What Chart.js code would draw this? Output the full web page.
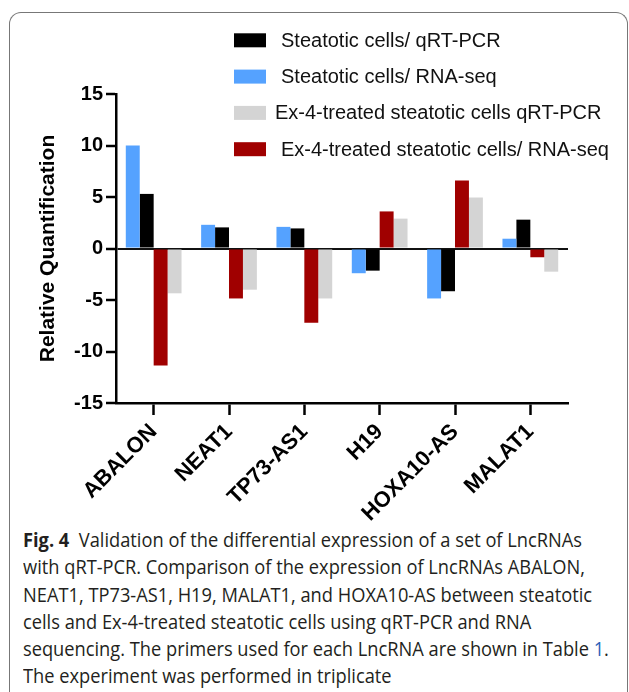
<!DOCTYPE html>
<html>
<head>
<meta charset="utf-8">
<script src="https://cdn.jsdelivr.net/npm/chart.js@4"></script>
<style>
  html, body { margin: 0; padding: 0; background: #fff; }
  body { width: 629px; height: 692px; position: relative; overflow: hidden; }
  #frame {
    position: absolute; left: 9px; top: 12px; width: 617px; height: 700px;
    border-left: 1.5px solid #777; border-top: 1.5px solid #777; border-right: 1.5px solid #777;
    border-top-left-radius: 12px; border-top-right-radius: 12px;
  }
  #chart { position: absolute; left: 0; top: 0; }
  #caption {
    position: absolute; left: 23px; top: 526px;
    font-family: "Open Sans", "Noto Sans", sans-serif; font-size: 19.5px;
    line-height: 27.3px; color: #231f20; white-space: nowrap;
    transform-origin: 0 0;
  }
  #caption b { font-weight: 700; }
  #caption .ref { color: #2a62b8; }
</style>
</head>
<body>
<div id="frame"></div>
<canvas id="chart" width="629" height="525"></canvas>
<div id="caption">
  <div><span id="line1"><b>Fig. 4</b>&nbsp; Validation of the differential expression of a set of LncRNAs</span></div>
  <div>with qRT-PCR. Comparison of the expression of LncRNAs ABALON,</div>
  <div>NEAT1, TP73-AS1, H19, MALAT1, and HOXA10-AS between steatotic</div>
  <div>cells and Ex-4-treated steatotic cells using qRT-PCR and RNA</div>
  <div>sequencing. The primers used for each LncRNA are shown in Table <span class="ref">1</span>.</div>
  <div>The experiment was performed in triplicate</div>
</div>
<script>
// data
const genes = ["ABALON", "NEAT1", "TP73-AS1", "H19", "HOXA10-AS", "MALAT1"];
const steatoticRnaSeq = [10.0, 2.3, 2.1, -2.4, -4.85, 0.95];
const steatoticQpcr = [5.3, 2.05, 1.95, -2.15, -4.15, 2.8];
const ex4RnaSeq = [-11.35, -4.85, -7.2, 3.6, 6.6, -0.85];
const ex4Qpcr = [-4.35, -4.0, -4.85, 2.9, 4.95, -2.25];
const yMin = -15, yMax = 15, yStep = 5;

Chart.defaults.font.family = "'Liberation Sans', Arial, sans-serif";
Chart.defaults.color = "#000";

// legend drawn inside the plot, in the figure's own order
const boxLegend = {
    id: "boxLegend",
    afterDraw(chart, args, opts) {
        const ctx = chart.ctx;
        ctx.save();
        ctx.font = "20px 'Liberation Sans', Arial, sans-serif";
        ctx.textBaseline = "middle";
        opts.order.forEach((dsIndex, i) => {
            const ds = chart.data.datasets[dsIndex];
            const y = opts.top + i * opts.rowGap;
            ctx.fillStyle = ds.backgroundColor;
            ctx.fillRect(opts.boxX, y - 7, 32, 14);
            ctx.fillStyle = "#111";
            ctx.fillText(ds.label, opts.textX + (opts.textShift[i] || 0), y + 1);
        });
        ctx.restore();
    }
};

new Chart(document.getElementById("chart").getContext("2d"), {
    type: "bar",
    data: {
        labels: genes,
        datasets: [
            { label: "Steatotic cells/ RNA-seq", data: steatoticRnaSeq, backgroundColor: "#55a2ff" },
            { label: "Steatotic cells/ qRT-PCR", data: steatoticQpcr, backgroundColor: "#000000" },
            { label: "Ex-4-treated steatotic cells/ RNA-seq", data: ex4RnaSeq, backgroundColor: "#a00000" },
            { label: "Ex-4-treated steatotic cells qRT-PCR", data: ex4Qpcr, backgroundColor: "#d4d4d4" },
        ]
    },
    plugins: [boxLegend],
    options: {
        responsive: false,
        animation: false,
        devicePixelRatio: 1,
        categoryPercentage: 0.74,
        barPercentage: 1.0,
        layout: {
            padding: { left: 28, top: 94, right: 61, bottom: 0 }
        },
        plugins: {
            legend: { display: false },
            tooltip: { enabled: false },
            boxLegend: { order: [1, 0, 3, 2], top: 40.3, rowGap: 36.3, boxX: 234, textX: 281, textShift: [0, 0, -6, 0] },
        },
        scales: {
            x: {
                afterFit: (scale) => { scale.height = 122; },
                border: { color: "#000", width: 2.5 },
                grid: { offset: false, drawOnChartArea: false, tickLength: 12, tickColor: "#000", tickWidth: 2.5 },
                ticks: {
                    maxRotation: 45, minRotation: 45, padding: 4,
                    font: { size: 22, weight: "bold" }, color: "#000"
                }
            },
            y: {
                min: yMin, max: yMax,
                afterFit: (scale) => { scale.width = 116 - 28; },
                border: { color: "#000", width: 2.5 },
                grid: {
                    color: (c) => c.tick && c.tick.value === 0 ? "#111" : "transparent",
                    lineWidth: 2, tickLength: 10, tickColor: "#000", tickWidth: 2.5
                },
                ticks: { stepSize: yStep, padding: 3, font: { size: 20, weight: "bold" }, color: "#000" },
                title: {
                    display: true, text: "Relative Quantification",
                    font: { size: 21, weight: "bold", lineHeight: 1.2 }, color: "#000",
                    padding: { top: 8, bottom: 0 }
                }
            }
        }
    }
});

// fit the caption to the width of the original text block
document.fonts.ready.then(() => {
    const w = document.getElementById("line1").getBoundingClientRect().width;
    document.getElementById("caption").style.transform = "scaleX(" + (559 / w) + ")";
});
</script>
</body>
</html>
